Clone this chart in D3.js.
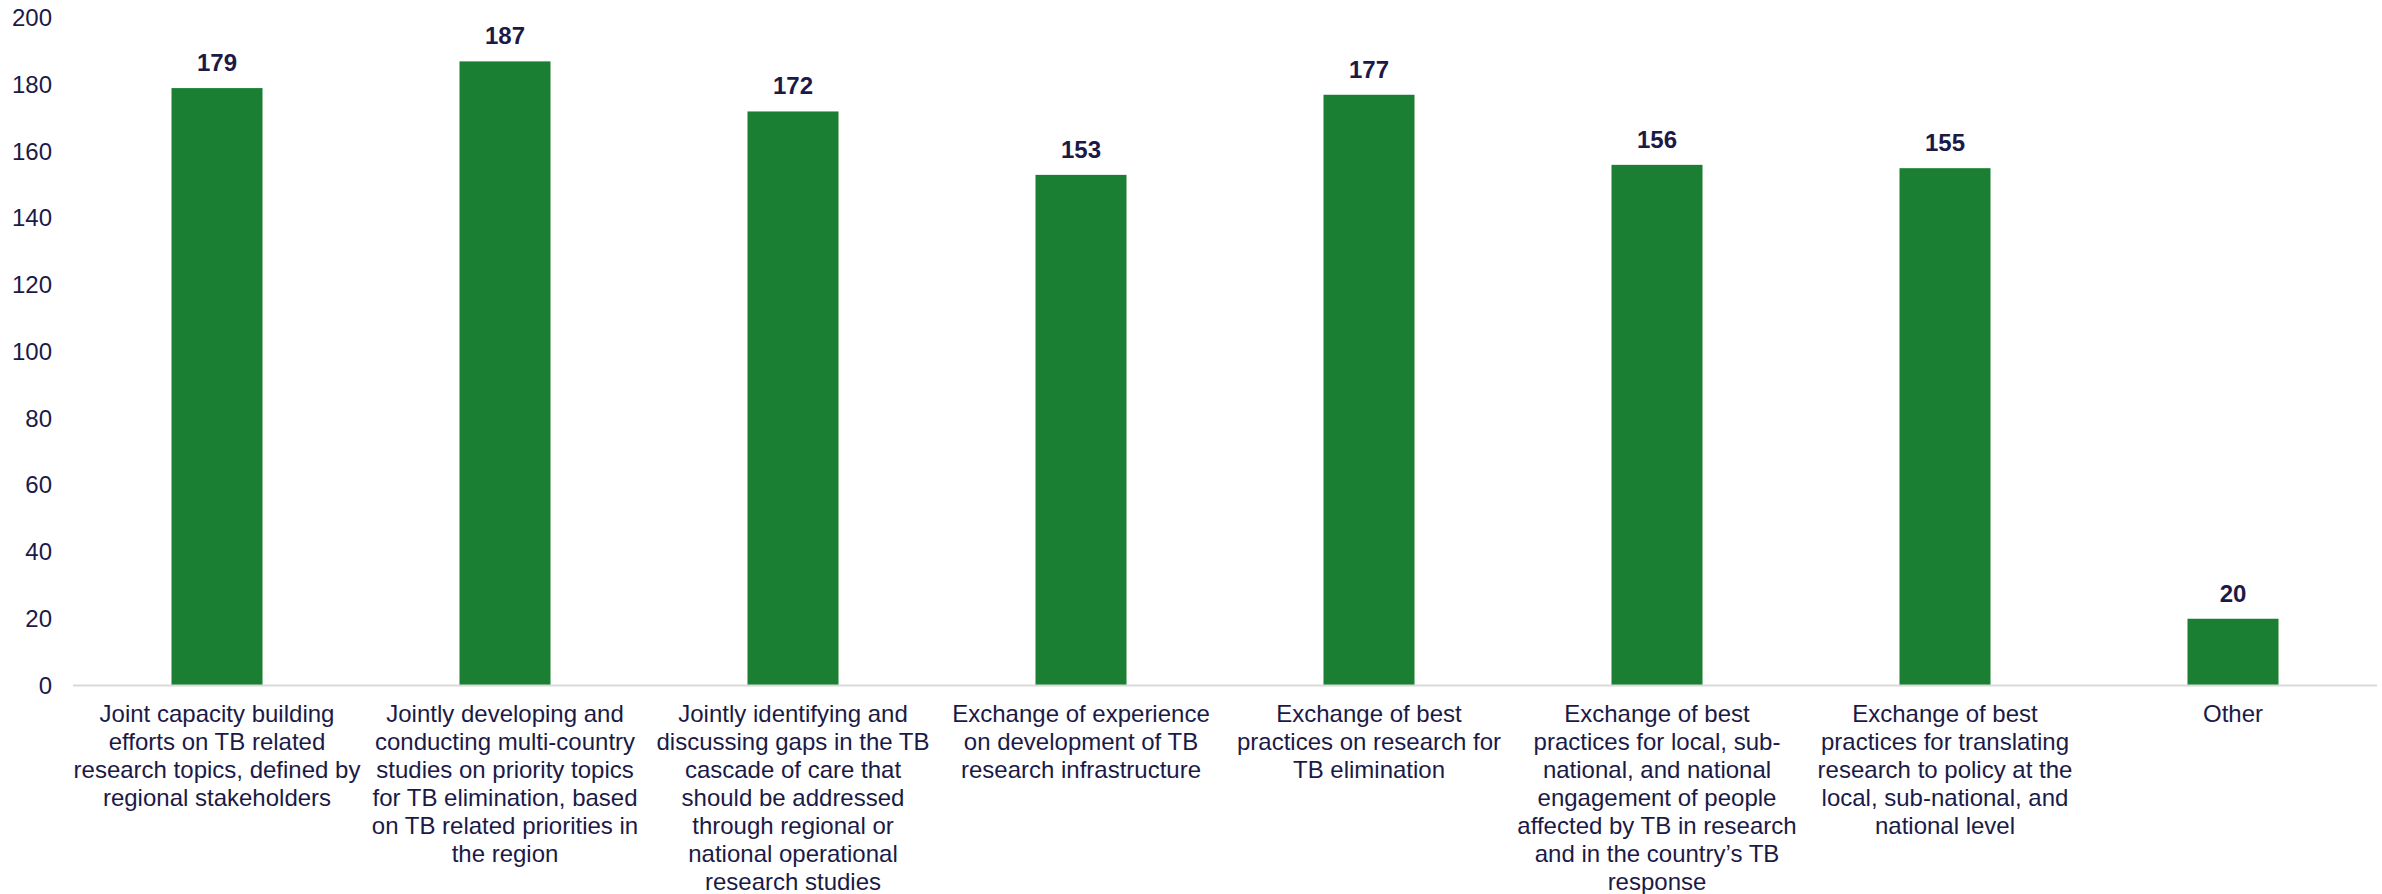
<!DOCTYPE html>
<html>
<head>
<meta charset="utf-8">
<script src="https://cdn.jsdelivr.net/npm/d3@7"></script>
<style>
  body { margin: 0; background: #fff; }
  svg text { font-family: "Liberation Sans", Arial, sans-serif; fill: #1b1a47; }
</style>
</head>
<body>
<div id="graph"></div>
<script>
// categories, wrapped the same way as the original labels
var categories = [
    "Joint capacity building\nefforts on TB related\nresearch topics, defined by\nregional stakeholders",
    "Jointly developing and\nconducting multi-country\nstudies on priority topics\nfor TB elimination, based\non TB related priorities in\nthe region",
    "Jointly identifying and\ndiscussing gaps in the TB\ncascade of care that\nshould be addressed\nthrough regional or\nnational operational\nresearch studies",
    "Exchange of experience\non development of TB\nresearch infrastructure",
    "Exchange of best\npractices on research for\nTB elimination",
    "Exchange of best\npractices for local, sub-\nnational, and national\nengagement of people\naffected by TB in research\nand in the country\u2019s TB\nresponse",
    "Exchange of best\npractices for translating\nresearch to policy at the\nlocal, sub-national, and\nnational level",
    "Other"
];
var counts = [179, 187, 172, 153, 177, 156, 155, 20];
var yTicks = [0, 20, 40, 60, 80, 100, 120, 140, 160, 180, 200];

window.onload = start;

function start() {
    var width = 2382;
    var height = 894;

    var svg = d3.select('#graph')
        .append('svg')
        .attr('width', width)
        .attr('height', height);

    var left = 73, right = 2377;
    var base = 685.5, top = 18;

    var xScale = d3.scaleBand().domain(categories).range([left, right]).padding(0);
    var yScale = d3.scaleLinear().domain([0, 200]).range([base, top]);
    var barW = xScale.bandwidth() * 0.316;

    // y axis, labels only
    var yAxis = d3.axisLeft(yScale).tickValues(yTicks).tickSize(0).tickPadding(21);
    var yG = svg.append('g')
        .attr('transform', 'translate(' + left + ',0)')
        .call(yAxis);
    yG.select('.domain').remove();
    yG.selectAll('text')
        .style('font-family', '"Liberation Sans", Arial, sans-serif')
        .style('font-size', '24px')
        .style('fill', '#1b1a47');

    var data = categories.map(function(c, i) {
        return { cat: c, value: counts[i] };
    });

    var bars = svg.append('g');
    bars.selectAll('.bar')
        .data(data)
        .enter()
        .append('rect')
        .attr('class', 'bar')
        .attr('x', function(d) { return xScale(d.cat) + (xScale.bandwidth() - barW) / 2; })
        .attr('y', function(d) { return yScale(d.value); })
        .attr('width', barW)
        .attr('height', function(d) { return yScale(0) - yScale(d.value); })
        .attr('fill', '#1a7f32');

    // baseline
    svg.append('line')
        .attr('x1', left).attr('x2', right)
        .attr('y1', yScale(0)).attr('y2', yScale(0))
        .attr('stroke', '#d9d9d9')
        .attr('stroke-width', 2);

    // value labels
    svg.append('g').selectAll('text')
        .data(data)
        .enter()
        .append('text')
        .attr('x', function(d) { return xScale(d.cat) + xScale.bandwidth() / 2; })
        .attr('y', function(d) { return yScale(d.value) - 17; })
        .attr('text-anchor', 'middle')
        .style('font-size', '24px')
        .style('font-weight', 'bold')
        .text(function(d) { return d.value; });

    // category labels
    var labels = svg.append('g').selectAll('text')
        .data(categories)
        .enter()
        .append('text')
        .attr('text-anchor', 'middle')
        .style('font-size', '24px');

    labels.each(function(c) {
        var t = d3.select(this);
        var cx = xScale(c) + xScale.bandwidth() / 2;
        c.split('\n').forEach(function(line, i) {
            t.append('tspan')
                .attr('x', cx)
                .attr('y', 722 + i * 28)
                .text(line);
        });
    });
}
</script>
</body>
</html>
